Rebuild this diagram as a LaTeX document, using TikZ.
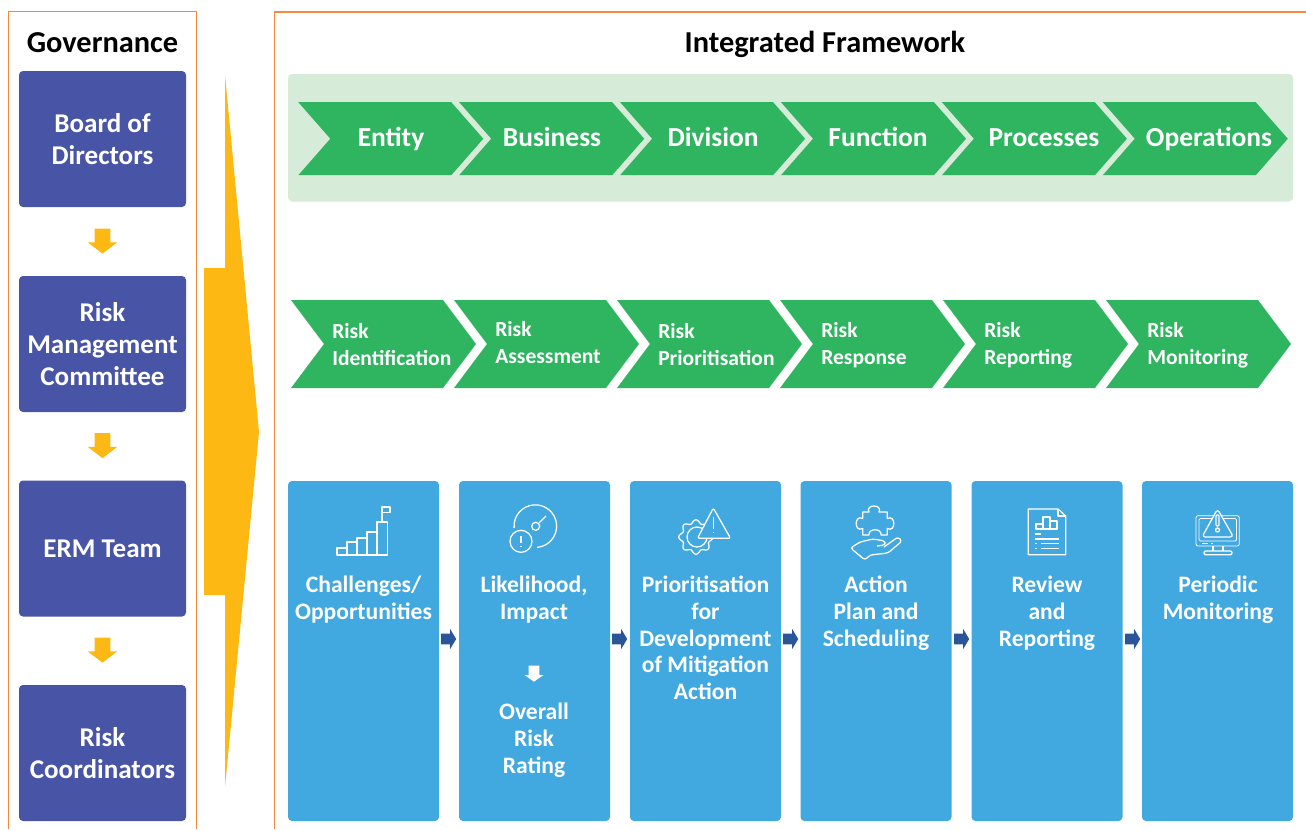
\documentclass[tikz,border=0pt]{standalone}
\usepackage{fontspec}
\setmainfont{Carlito}
\usepackage{tikz}
\usetikzlibrary{shapes.symbols,shapes.arrows}
\usepackage{xcolor}
\definecolor{frameorange}{HTML}{F58A3C}
\definecolor{arrowamber}{HTML}{FDB813}
\definecolor{boardindigo}{HTML}{4854A5}
\definecolor{panelgreen}{HTML}{D7EBD9}
\definecolor{chevgreen}{HTML}{2FB560}
\definecolor{stepblue}{HTML}{41A8E0}
\definecolor{linkblue}{HTML}{2A5599}
\tikzset{
  frameline/.style={draw=frameorange, line width=.8pt},
  headtxt/.style={font=\fontsize{22.8}{27}\selectfont\bfseries, text=black, inner sep=0, anchor=base},
  govbox/.style={rounded corners=3pt, fill=boardindigo, text=white, align=center, inner sep=0, minimum width=125.25pt, minimum height=102pt, font=\fontsize{20.3}{24}\selectfont\bfseries},
  chevtop/.style={signal, signal from=west, signal to=east, signal pointer angle=97.5, fill=chevgreen, inner sep=0, minimum width=138.75pt, minimum height=54.75pt},
  chevrisk/.style={signal, signal from=west, signal to=east, signal pointer angle=106.3, fill=chevgreen, inner sep=0, minimum width=138.75pt, minimum height=66pt},
  chevtxt/.style={text=white, inner sep=0, anchor=base, font=\fontsize{20.6}{24}\selectfont\bfseries},
  risktxt/.style={text=white, inner sep=0, align=left, anchor=west, font=\fontsize{16.15}{20.25}\selectfont\bfseries},
  stepbox/.style={rounded corners=3pt, fill=stepblue, inner sep=0, minimum width=113.25pt, minimum height=255pt},
  steptxt/.style={text=white, inner sep=0, align=center, anchor=north, font=\fontsize{17.7}{20.15}\selectfont\bfseries},
  orangedown/.style={single arrow, shape border rotate=270, anchor=tip, fill=arrowamber, inner ysep=0, inner xsep=5.625pt, minimum height=18.75pt, single arrow head extend=5.25pt, single arrow tip angle=105},
  bluelink/.style={single arrow, anchor=tip, fill=linkblue, inner xsep=0, inner ysep=3.75pt, minimum height=11.25pt, single arrow head extend=3.75pt, single arrow tip angle=118},
  whitedown/.style={single arrow, shape border rotate=270, anchor=tip, fill=white, inner ysep=0, inner xsep=3.75pt, minimum height=12pt, single arrow head extend=3pt, single arrow tip angle=110},
  iconline/.style={draw=white, line width=.95pt, line join=round},
  iconthin/.style={draw=white, line width=.6pt, line join=round}
}
\begin{document}
\begin{tikzpicture}[x=.75pt, y=-.75pt]

\useasboundingbox (0,0) rectangle (1306,829);

\draw[frameline] (8.3,829) -- (8.3,11.7) -- (196.7,11.7) -- (196.7,829);
\draw[frameline] (274.3,829) -- (274.3,12) -- (1306,12);

\node[headtxt] (govtitle) at (102.5,52) {Governance};
\node[headtxt] (inttitle) at (825,52) {Integrated Framework};

\node[govbox] (board) at (102.5,139) {Board of\\Directors};
\node[govbox] (rmc) at (102.5,344) {Risk\\Management\\Committee};
\node[govbox] (erm) at (102.5,548.5) {ERM Team};
\node[govbox] (coord) at (102.5,753) {Risk\\Coordinators};

\node[orangedown] (gdown1) at (102.5,254) {};
\node[orangedown] (gdown2) at (102.5,458.5) {};
\node[orangedown] (gdown3) at (102.5,663) {};

\fill[arrowamber] (204,268) -- (225,268) -- (225,75) -- (259,432) -- (225,787) -- (225,595) -- (204,595) -- cycle;

\fill[panelgreen, rounded corners=3pt] (288,74) rectangle (1293,201.5);

\node[chevtop] (c1) at (390.8,138.7) {};
\node[chevtop] (c2) at (551.7,138.7) {};
\node[chevtop] (c3) at (712.6,138.7) {};
\node[chevtop] (c4) at (873.5,138.7) {};
\node[chevtop] (c5) at (1034.4,138.7) {};
\node[chevtop] (c6) at (1195.3,138.7) {};

\node[chevtxt] (t1) at (391,146) {Entity};
\node[chevtxt] (t2) at (552,146) {Business};
\node[chevtxt] (t3) at (713,146) {Division};
\node[chevtxt] (t4) at (878,146) {Function};
\node[chevtxt] (t5) at (1044,146) {Processes};
\node[chevtxt] (t6) at (1209,146) {Operations};

\node[chevrisk] (r1) at (383.5,344) {};
\node[chevrisk] (r2) at (546.5,344) {};
\node[chevrisk] (r3) at (709.5,344) {};
\node[chevrisk] (r4) at (872.5,344) {};
\node[chevrisk] (r5) at (1035.5,344) {};
\node[chevrisk] (r6) at (1198.5,344) {};

\node[risktxt] (rt1) at (332,345) {Risk\\Identification};
\node[risktxt] (rt2) at (495,343) {Risk\\Assessment};
\node[risktxt] (rt3) at (658,345) {Risk\\Prioritisation};
\node[risktxt] (rt4) at (821,345.5) {Risk\\Response};
\node[risktxt] (rt5) at (984,345.5) {Risk\\Reporting};
\node[risktxt] (rt6) at (1147,345.5) {Risk\\Monitoring};

\node[stepbox] (s1) at (363.5,651) {};
\node[stepbox] (s2) at (534.5,651) {};
\node[stepbox] (s3) at (705.5,651) {};
\node[stepbox] (s4) at (876,651) {};
\node[stepbox] (s5) at (1047,651) {};
\node[stepbox] (s6) at (1217.5,651) {};

\node[steptxt] (st1) at (363.5,575.5) {Challenges/\\Opportunities};
\node[steptxt] (st2) at (534,575.5) {Likelihood,\\Impact};
\node[steptxt] (st2b) at (534,702.5) {Overall\\Risk\\Rating};
\node[steptxt] (st3) at (705.5,575.5) {Prioritisation\\for\\Development\\of Mitigation\\Action};
\node[steptxt] (st4) at (876,575.5) {Action\\Plan and\\Scheduling};
\node[steptxt] (st5) at (1047,575.5) {Review\\and\\Reporting};
\node[steptxt] (st6) at (1218,575.5) {Periodic\\Monitoring};

\node[whitedown] (sdown) at (534,682) {};

\node[bluelink] (l1) at (456.5,639) {};
\node[bluelink] (l2) at (627.5,639) {};
\node[bluelink] (l3) at (798.5,639) {};
\node[bluelink] (l4) at (969.5,639) {};
\node[bluelink] (l5) at (1140.5,639) {};

\draw[iconline] (337,555) rectangle (347,548);
\draw[iconline] (347,555) rectangle (357,542);
\draw[iconline] (357,555) rectangle (367,538);
\draw[iconline] (367,555) rectangle (377,532);
\draw[iconline] (377,555) rectangle (387.5,522);
\draw[iconline] (382,522) -- (382,507) -- (390,507) -- (390,512.5) -- (382,512.5);

\draw[iconline] (514.1,528) arc[start angle=175, end angle=445, radius=21.3];
\draw[iconline] (521,541.3) circle[radius=8.25pt];
\draw[iconline] (521,536) -- (521,542.5);
\draw[iconline] (521,545.5) -- (521,546.5);
\draw[iconline] (535.7,526.3) circle[radius=3pt];
\draw[iconline] (539,523) -- (546,516);

\draw[iconline, shift={(696,537)}] plot[domain=0:360, samples=145, smooth] (\x:{15.5+1.7*cos(8*\x)});
\draw[iconline] (697,537) circle[radius=7.5pt];
\draw[iconline, fill=stepblue, rounded corners=1.5pt] (713.3,508) -- (730.5,538.3) -- (697.5,538.3) -- cycle;
\draw[iconline] (713.3,517) -- (713.3,529);
\draw[iconline] (713.3,531.5) -- (713.3,533);

\draw[iconline] (862.7,512) -- (869,512) .. controls (865,504) and (883,504) .. (879,512) -- (887.3,512) -- (887.3,518.5) .. controls (896,514) and (896,533) .. (887.3,528.5) -- (887.3,535) -- (881,535) .. controls (882,528) and (868,528) .. (869,535) -- (862.7,535) -- (862.7,528.5) .. controls (854,533) and (854,514) .. (862.7,518.5) -- cycle;
\draw[iconline, rounded corners=2pt] (884,547) -- (898,537) -- (902,541) -- (888,553) -- (870,555) -- (865,560) -- (850.5,548) -- (860,542) -- (873,539) -- (885,541) -- (885,545) -- (877,546);

\draw[iconline] (1028.3,509) -- (1058,509) -- (1065.7,516) -- (1065.7,554.7) -- (1028.3,554.7) -- cycle;
\draw[iconline] (1058,509) -- (1058,516) -- (1065.7,516);
\draw[iconline] (1036,529) rectangle (1043,524);
\draw[iconline] (1043,529) rectangle (1050,517);
\draw[iconline] (1050,529) rectangle (1057,521);
\draw[iconline] (1035,534) -- (1041,534);
\draw[iconline] (1035,539) -- (1059,539);
\draw[iconline] (1035,543.5) -- (1037,543.5);
\draw[iconline] (1041,543.5) -- (1059,543.5);
\draw[iconline] (1035,548.5) -- (1037,548.5);
\draw[iconline] (1041,548.5) -- (1059,548.5);

\draw[iconthin, rounded corners=1.5pt] (1196,515.7) rectangle (1239.3,546);
\draw[iconthin, rounded corners=1pt] (1199,518.5) rectangle (1236.5,541);
\draw[iconline] (1213,546) -- (1213,551);
\draw[iconline] (1223,546) -- (1223,551);
\draw[iconline, rounded corners=1pt] (1204,551) rectangle (1232,554.7);
\draw[iconthin] (1202,543.5) -- (1208,543.5);
\draw[iconthin] (1210.5,543.5) -- (1213,543.5);
\draw[iconline, fill=stepblue, rounded corners=2.5pt] (1217.5,509) -- (1233.5,537) -- (1202,537) -- cycle;
\draw[iconline, rounded corners=.8pt] (1216,515) rectangle (1219,526);
\draw[iconline] (1217.5,530) circle[radius=1.5pt];

\end{tikzpicture}
\end{document}
